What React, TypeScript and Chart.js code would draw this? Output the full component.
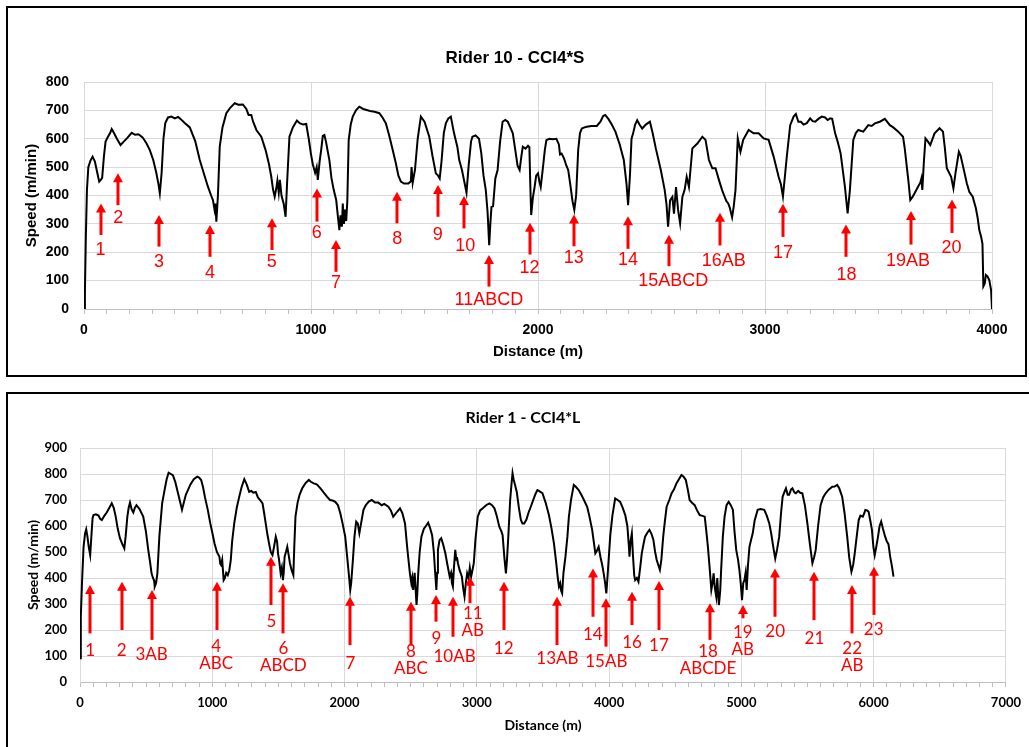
import React, { useEffect, useRef } from "react";
import { Chart, registerables } from "chart.js";

Chart.register(...registerables);

const SANS = '"Liberation Sans", Arial, Helvetica, sans-serif';
const CAL = 'Lato, "Open Sans", sans-serif';
const RED = "#ff0000";

// ---------- Rider 10 - CCI4*S : [distance (m), speed (m/min)] ----------
const rider10Trace: number[][] = [
  [0,0],[4,60],[8,250],[13,420],[19,500],[28,522],[38,537],[48,520],[58,482],[67,449],[74,455],[80,462],[88,540],[95,590],[105,606],[115,620],[122,634],[132,620],[145,600],[161,578],[175,590],[190,602],[210,621],[225,614],[240,616],[258,605],[275,584],[290,560],[305,525],[318,482],[328,440],[334,408],[342,480],[350,600],[358,655],[370,675],[385,678],[400,672],[415,677],[425,670],[445,655],[466,640],[490,592],[510,525],[530,472],[546,431],[560,400],[568,384],[575,350],[579,372],[583,308],[590,400],[598,572],[610,640],[627,690],[645,710],[664,725],[680,720],[700,721],[715,705],[725,684],[737,684],[745,660],[760,630],[781,607],[800,560],[815,510],[825,466],[833,420],[840,396],[848,430],[852,452],[858,410],[863,455],[870,400],[880,370],[888,325],[895,450],[905,607],[920,640],[938,664],[950,655],[965,650],[979,652],[990,600],[1000,545],[1008,510],[1018,480],[1025,500],[1030,455],[1038,520],[1045,562],[1052,610],[1059,613],[1066,590],[1075,550],[1081,525],[1090,462],[1100,420],[1111,384],[1118,330],[1125,278],[1130,330],[1136,290],[1140,372],[1145,300],[1150,350],[1155,310],[1160,380],[1166,595],[1175,650],[1184,678],[1198,700],[1213,713],[1230,705],[1242,702],[1260,698],[1280,695],[1301,690],[1315,675],[1330,654],[1345,610],[1360,560],[1374,513],[1385,470],[1396,449],[1410,442],[1429,442],[1440,450],[1443,500],[1448,445],[1458,490],[1470,600],[1484,678],[1500,660],[1521,607],[1535,540],[1550,478],[1560,470],[1567,460],[1575,520],[1585,620],[1594,654],[1605,672],[1616,678],[1630,620],[1645,570],[1653,525],[1665,490],[1675,450],[1685,410],[1695,510],[1705,590],[1711,607],[1725,612],[1740,600],[1750,550],[1760,470],[1770,419],[1778,340],[1785,225],[1790,300],[1795,360],[1802,362],[1812,460],[1822,490],[1833,590],[1844,660],[1856,666],[1867,660],[1878,640],[1889,619],[1900,560],[1910,505],[1919,490],[1927,540],[1933,572],[1945,565],[1956,575],[1962,570],[1966,440],[1970,331],[1977,390],[1985,430],[1992,470],[2000,478],[2006,450],[2012,430],[2022,500],[2030,560],[2037,595],[2050,600],[2065,598],[2081,600],[2092,580],[2097,545],[2104,548],[2115,530],[2125,505],[2133,490],[2142,440],[2152,380],[2160,349],[2168,400],[2177,560],[2185,620],[2193,636],[2205,640],[2215,642],[2235,645],[2259,645],[2275,660],[2287,680],[2296,684],[2310,670],[2325,650],[2341,625],[2360,580],[2378,525],[2390,440],[2397,366],[2405,470],[2412,600],[2419,619],[2428,650],[2437,665],[2447,650],[2459,636],[2475,650],[2493,660],[2505,620],[2519,566],[2541,490],[2558,420],[2566,370],[2573,290],[2582,383],[2592,395],[2599,336],[2608,430],[2617,350],[2626,302],[2636,395],[2646,420],[2655,466],[2665,430],[2680,566],[2702,583],[2724,607],[2738,596],[2753,525],[2768,496],[2782,496],[2797,455],[2811,419],[2820,400],[2830,380],[2838,372],[2845,357],[2855,323],[2862,360],[2870,419],[2880,601],[2892,554],[2904,596],[2928,631],[2950,619],[2972,619],[2994,601],[3016,596],[3038,537],[3060,466],[3070,440],[3079,396],[3088,470],[3096,537],[3111,648],[3126,678],[3136,687],[3147,660],[3158,660],[3170,650],[3184,655],[3199,672],[3210,662],[3221,660],[3235,670],[3250,678],[3265,675],[3276,666],[3287,672],[3296,670],[3309,619],[3320,590],[3333,549],[3352,431],[3364,337],[3374,419],[3389,596],[3400,620],[3411,631],[3433,625],[3455,648],[3470,645],[3484,654],[3506,660],[3528,670],[3550,648],[3565,640],[3587,625],[3608,607],[3615,570],[3623,513],[3632,450],[3640,384],[3650,395],[3659,408],[3674,431],[3684,445],[3689,460],[3693,420],[3700,520],[3707,601],[3718,590],[3728,578],[3747,619],[3769,637],[3784,625],[3792,570],[3801,496],[3820,466],[3830,425],[3839,478],[3854,554],[3862,540],[3871,508],[3889,443],[3900,413],[3915,396],[3929,355],[3937,320],[3944,278],[3952,255],[3958,230],[3962,80],[3968,90],[3973,120],[3980,115],[3988,102],[3996,67],[4000,0]
];

const rider10MarkLabels = ["1","2","3","4","5","6","7","8","9","10","11ABCD","12","13","14","15ABCD","16AB","17","18","19AB","20"];
const rider10MarkDistance = [73,151,330,555,827,1025,1110,1380,1558,1675,1785,1963,2157,2397,2575,2800,3079,3359,3641,3822];
const rider10MarkTip = [372,478,331,296,320,425,243,413,437,398,190,304,333,327,262,339,371,298,345,386];
const rider10MarkTail = [261,366,220,184,208,308,131,302,325,284,79,192,221,212,151,224,254,184,227,268];
const rider10LabelDistance = [73,151,330,555,827,1025,1110,1380,1558,1680,1784,1963,2157,2397,2596,2818,3079,3359,3630,3822];
const rider10LabelSpeed = [208,320,167,128,167,267,90,246,261,222,32,145,180,172,98,168,198,121,168,215];

// ---------- Rider 1 - CCI4*L : [distance (m), speed (m/min)] ----------
const rider1Trace: number[][] = [
  [0,91],[6,250],[15,380],[27,520],[38,570],[47,587],[56,560],[66,520],[77,488],[86,560],[95,630],[102,642],[120,645],[140,640],[152,628],[165,623],[185,640],[202,652],[222,670],[240,687],[255,670],[270,636],[285,590],[302,553],[320,530],[335,514],[345,560],[358,636],[368,670],[378,690],[390,665],[403,652],[415,670],[427,680],[450,665],[478,636],[498,580],[516,508],[530,460],[541,418],[552,400],[560,390],[565,367],[575,380],[585,418],[600,560],[621,687],[640,740],[655,780],[670,805],[688,800],[703,795],[720,770],[741,726],[758,690],[771,662],[785,690],[800,720],[816,738],[835,760],[860,780],[886,790],[900,786],[916,777],[930,750],[945,710],[966,662],[985,610],[1000,575],[1017,533],[1035,500],[1054,482],[1060,455],[1066,450],[1075,470],[1086,392],[1095,400],[1105,420],[1117,411],[1129,430],[1140,470],[1150,540],[1166,610],[1185,670],[1204,713],[1222,750],[1242,780],[1260,760],[1279,731],[1295,735],[1310,728],[1329,731],[1345,710],[1362,700],[1380,687],[1392,650],[1404,610],[1416,570],[1429,533],[1442,500],[1455,488],[1467,520],[1480,559],[1490,540],[1497,495],[1505,470],[1517,418],[1526,440],[1534,392],[1540,420],[1547,482],[1557,500],[1567,520],[1577,490],[1587,457],[1600,430],[1613,411],[1620,520],[1629,636],[1645,690],[1660,720],[1680,745],[1705,765],[1730,777],[1745,770],[1767,764],[1790,760],[1818,745],[1840,730],[1867,713],[1890,700],[1910,698],[1930,693],[1950,680],[1968,649],[1985,610],[2005,559],[2020,480],[2035,400],[2043,354],[2050,380],[2063,469],[2075,560],[2088,617],[2100,610],[2112,572],[2125,610],[2143,662],[2160,680],[2185,695],[2206,700],[2230,690],[2255,690],[2281,680],[2300,685],[2331,674],[2350,660],[2368,636],[2390,650],[2419,668],[2437,650],[2457,610],[2475,510],[2494,418],[2505,380],[2512,400],[2519,354],[2530,420],[2537,360],[2544,296],[2550,340],[2557,418],[2568,500],[2581,559],[2600,590],[2615,600],[2632,613],[2645,595],[2662,565],[2675,500],[2685,420],[2694,354],[2700,420],[2706,508],[2718,545],[2731,553],[2745,530],[2762,495],[2778,450],[2795,405],[2805,420],[2812,380],[2819,367],[2827,440],[2837,508],[2845,470],[2850,480],[2857,457],[2870,430],[2887,405],[2897,360],[2907,328],[2917,380],[2927,418],[2937,400],[2947,440],[2957,405],[2967,430],[2977,457],[2990,550],[3007,636],[3025,660],[3045,668],[3070,680],[3095,687],[3115,680],[3133,668],[3150,640],[3170,597],[3185,580],[3195,565],[3208,480],[3220,418],[3228,470],[3238,559],[3252,700],[3262,760],[3270,803],[3278,780],[3288,760],[3302,731],[3318,670],[3333,623],[3345,610],[3358,610],[3375,625],[3390,650],[3408,674],[3430,705],[3445,725],[3458,738],[3470,735],[3484,730],[3496,726],[3520,690],[3545,642],[3565,590],[3583,533],[3600,460],[3612,400],[3621,367],[3630,380],[3638,350],[3645,341],[3655,420],[3670,482],[3685,560],[3696,636],[3712,700],[3733,758],[3750,750],[3770,738],[3790,720],[3810,700],[3834,674],[3850,640],[3872,585],[3884,540],[3896,495],[3908,505],[3921,520],[3935,480],[3948,450],[3959,418],[3970,380],[3979,341],[3990,420],[4009,565],[4025,640],[4046,706],[4065,700],[4084,693],[4103,670],[4122,642],[4138,600],[4150,520],[4154,482],[4162,540],[4172,572],[4180,490],[4190,410],[4197,392],[4210,400],[4222,386],[4235,440],[4247,495],[4260,530],[4272,559],[4290,575],[4305,585],[4320,570],[4335,546],[4348,500],[4360,469],[4372,450],[4384,431],[4395,470],[4409,559],[4422,620],[4435,674],[4455,700],[4473,726],[4490,740],[4509,764],[4528,780],[4547,796],[4563,790],[4580,777],[4595,740],[4609,700],[4625,690],[4647,680],[4665,660],[4685,642],[4700,640],[4723,636],[4735,580],[4747,520],[4760,440],[4773,354],[4782,380],[4790,418],[4800,360],[4810,328],[4818,400],[4824,340],[4830,296],[4840,350],[4847,431],[4860,560],[4873,636],[4888,680],[4904,693],[4920,680],[4936,662],[4948,580],[4961,508],[4975,470],[4985,431],[4995,380],[5005,315],[5014,380],[5023,392],[5032,420],[5040,354],[5050,450],[5061,520],[5075,550],[5086,572],[5100,620],[5123,662],[5145,665],[5173,662],[5192,640],[5211,610],[5226,570],[5241,520],[5256,475],[5270,510],[5286,559],[5300,650],[5312,713],[5325,730],[5337,745],[5350,720],[5361,720],[5375,740],[5386,745],[5400,730],[5412,726],[5430,735],[5445,728],[5461,726],[5480,680],[5499,610],[5518,530],[5537,457],[5550,480],[5562,508],[5580,600],[5599,680],[5618,710],[5637,726],[5660,740],[5687,751],[5705,752],[5724,758],[5740,745],[5762,713],[5780,650],[5800,559],[5815,480],[5832,424],[5845,450],[5857,495],[5872,560],[5887,623],[5900,640],[5918,636],[5930,650],[5937,662],[5950,660],[5962,655],[5975,620],[5987,585],[5998,520],[6008,488],[6020,520],[6033,559],[6045,600],[6057,617],[6070,590],[6087,559],[6100,540],[6112,530],[6125,482],[6140,440],[6150,405]
];

const rider1MarkLabels = ["1","2","3AB","4\nABC","5","6\nABCD","7","8\nABC","9","10AB","11\nAB","12","13AB","14","15AB","16","17","18\nABCDE","19\nAB","20","21","22\nAB","23"];
const rider1MarkDistance = [77,316,541,1034,1447,1537,2044,2502,2694,2822,2947,3203,3609,3877,3979,4174,4377,4760,5011,5256,5552,5838,6000];
const rider1MarkTip = [373,386,354,386,482,380,328,309,335,328,405,386,328,437,322,347,388,303,296,437,424,373,443];
const rider1MarkTail = [187,200,162,200,296,187,142,140,232,174,303,200,142,251,136,219,200,162,245,251,238,187,258];
const rider1LabelDistance = [77,316,541,1030,1447,1537,2044,2502,2694,2832,2970,3203,3609,3877,3979,4174,4377,4748,5011,5256,5552,5838,6000];
const rider1LabelSpeed = [123,123,104,136,232,130,72,117,168,97,264,130,91,181,78,151,142,117,190,193,168,130,200];

type Marks = {
  labels: string[];
  dist: number[];
  tip: number[];
  tail: number[];
  labelDist: number[];
  labelSpeed: number[];
};

type Spec = {
  key: string;
  left: number;
  top: number;
  width: number;
  height: number;
  padRight: number;
  padTop: number;
  yWidth: number;
  xHeight: number;
  trace: number[][];
  xMax: number;
  yMax: number;
  family: string;
  tickSize: number;
  yTickPad: number;
  axisTitleSize: number;
  xTitlePadBottom: number;
  yTitlePadTop: number;
  title: string;
  titleFont: string;
  titleX: number;
  titleY: number;
  markFont: string;
  lineGap: number;
  marks: Marks;
};

function overlay(spec: Spec) {
  return {
    id: "overlay_" + spec.key,
    afterDatasetsDraw(chart: any) {
      const ctx: CanvasRenderingContext2D = chart.ctx;
      const xs = chart.scales.x;
      const ys = chart.scales.y;
      ctx.save();
      ctx.textAlign = "center";
      ctx.textBaseline = "middle";
      ctx.fillStyle = "#000";
      ctx.font = spec.titleFont;
      ctx.fillText(spec.title, spec.titleX, spec.titleY);

      const m = spec.marks;
      ctx.fillStyle = RED;
      ctx.strokeStyle = RED;
      ctx.lineWidth = 3;
      ctx.font = spec.markFont;
      const head = 9;
      const half = 5;
      m.labels.forEach((label, i) => {
        const px = Math.round(xs.getPixelForValue(m.dist[i]));
        const tipY = ys.getPixelForValue(m.tip[i]);
        const tailY = ys.getPixelForValue(m.tail[i]);
        ctx.beginPath();
        ctx.moveTo(px, tailY);
        ctx.lineTo(px, tipY + head - 1);
        ctx.stroke();
        ctx.beginPath();
        ctx.moveTo(px, tipY);
        ctx.lineTo(px + half, tipY + head);
        ctx.lineTo(px - half, tipY + head);
        ctx.closePath();
        ctx.fill();
        const lx = xs.getPixelForValue(m.labelDist[i]);
        const ly = ys.getPixelForValue(m.labelSpeed[i]);
        label.split("\n").forEach((line, k) => {
          ctx.fillText(line, lx, ly + k * spec.lineGap);
        });
      });
      ctx.restore();
    },
  };
}

function buildConfig(spec: Spec): any {
  const tickFont = { family: spec.family, size: spec.tickSize, weight: "bold" as const };
  const axisFont = { family: spec.family, size: spec.axisTitleSize, weight: "bold" as const };
  return {
    type: "line",
    data: {
      datasets: [
        {
          data: spec.trace.map(([d, s]) => ({ x: d, y: s })),
          borderColor: "#000",
          borderWidth: 2,
          pointRadius: 0,
          tension: 0,
          fill: false,
        },
      ],
    },
    options: {
      responsive: false,
      animation: false,
      devicePixelRatio: 1,
      events: [],
      layout: { padding: { left: 0, right: spec.padRight, top: spec.padTop, bottom: 0 } },
      plugins: {
        legend: { display: false },
        tooltip: { enabled: false },
        title: { display: false },
      },
      scales: {
        x: {
          type: "linear",
          min: 0,
          max: spec.xMax,
          afterFit: (s: any) => {
            s.height = spec.xHeight;
          },
          ticks: {
            stepSize: 100,
            maxTicksLimit: 200,
            autoSkip: false,
            maxRotation: 0,
            minRotation: 0,
            padding: 8,
            color: "#000",
            font: tickFont,
            callback: (v: any) => (Number(v) % 1000 === 0 ? String(v) : ""),
          },
          grid: {
            color: (c: any) =>
              c.tick && Number(c.tick.value) % 1000 === 0 ? "#d9d9d9" : "rgba(0,0,0,0)",
            tickColor: "#bfbfbf",
            tickLength: 5,
            drawTicks: true,
            lineWidth: 1,
          },
          border: { display: true, color: "#bfbfbf", width: 1 },
          title: {
            display: true,
            text: "Distance (m)",
            color: "#000",
            font: axisFont,
            padding: { top: 0, bottom: spec.xTitlePadBottom },
          },
        },
        y: {
          type: "linear",
          min: 0,
          max: spec.yMax,
          afterFit: (s: any) => {
            s.width = spec.yWidth;
          },
          ticks: {
            stepSize: 100,
            padding: spec.yTickPad,
            color: "#000",
            font: tickFont,
          },
          grid: { color: "#d9d9d9", drawTicks: false, lineWidth: 1 },
          border: { display: true, color: "#d9d9d9", width: 1 },
          title: {
            display: true,
            text: "Speed (m/min)",
            color: "#000",
            font: axisFont,
            padding: { top: spec.yTitlePadTop, bottom: 0 },
          },
        },
      },
    },
    plugins: [overlay(spec)],
  };
}

const topSpec: Spec = {
  key: "rider10",
  left: 8,
  top: 8,
  width: 1017,
  height: 366,
  padRight: 33,
  padTop: 74,
  yWidth: 76,
  xHeight: 65,
  trace: rider10Trace,
  xMax: 4000,
  yMax: 800,
  family: SANS,
  tickSize: 14,
  yTickPad: 15,
  axisTitleSize: 15,
  xTitlePadBottom: 13,
  yTitlePadTop: 15,
  title: "Rider 10 - CCI4*S",
  titleFont: `bold 17px ${SANS}`,
  titleX: 507,
  titleY: 50,
  markFont: `18px ${SANS}`,
  lineGap: 0,
  marks: {
    labels: rider10MarkLabels,
    dist: rider10MarkDistance,
    tip: rider10MarkTip,
    tail: rider10MarkTail,
    labelDist: rider10LabelDistance,
    labelSpeed: rider10LabelSpeed,
  },
};

const bottomSpec: Spec = {
  key: "rider1",
  left: 8,
  top: 394,
  width: 1021,
  height: 353,
  padRight: 19,
  padTop: 54,
  yWidth: 72,
  xHeight: 65,
  trace: rider1Trace,
  xMax: 7000,
  yMax: 900,
  family: CAL,
  tickSize: 13,
  yTickPad: 13,
  axisTitleSize: 14,
  xTitlePadBottom: 13,
  yTitlePadTop: 17,
  title: "Rider 1 - CCI4*L",
  titleFont: `bold 16px ${CAL}`,
  titleX: 515,
  titleY: 24,
  markFont: `17px ${CAL}`,
  lineGap: 17,
  marks: {
    labels: rider1MarkLabels,
    dist: rider1MarkDistance,
    tip: rider1MarkTip,
    tail: rider1MarkTail,
    labelDist: rider1LabelDistance,
    labelSpeed: rider1LabelSpeed,
  },
};

function ChartCanvas({ spec }: { spec: Spec }) {
  const ref = useRef<HTMLCanvasElement>(null);
  useEffect(() => {
    if (!ref.current) return;
    const chart = new Chart(ref.current, buildConfig(spec));
    return () => chart.destroy();
  }, [spec]);
  return (
    <canvas
      ref={ref}
      width={spec.width}
      height={spec.height}
      style={{
        position: "absolute",
        left: spec.left,
        top: spec.top,
        width: spec.width,
        height: spec.height,
      }}
    />
  );
}

export default function App() {
  return (
    <div
      style={{
        position: "fixed",
        left: 0,
        top: 0,
        width: 1029,
        height: 747,
        overflow: "hidden",
        background: "#fff",
      }}
    >
      <div
        style={{
          position: "absolute",
          left: 6,
          top: 6,
          width: 1021,
          height: 371,
          border: "2px solid #000",
          boxSizing: "border-box",
        }}
      />
      <div
        style={{
          position: "absolute",
          left: 6,
          top: 392,
          width: 1040,
          height: 400,
          border: "2px solid #000",
          boxSizing: "border-box",
        }}
      />
      <ChartCanvas spec={topSpec} />
      <ChartCanvas spec={bottomSpec} />
    </div>
  );
}
